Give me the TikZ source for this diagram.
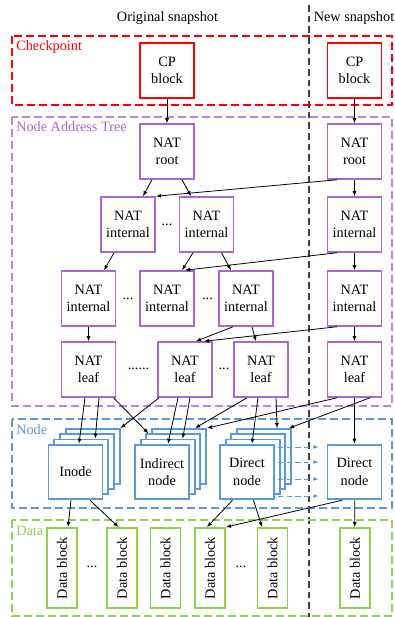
\documentclass[tikz,border=0pt]{standalone}
\usepackage{fontspec}
\setmainfont{Liberation Serif}
\usepackage{xcolor}
\usepackage{graphicx}
\usepackage{tikz}
\usetikzlibrary{arrows.meta,calc,positioning}
\definecolor{cpred}{RGB}{255,0,0}
\definecolor{natpurple}{RGB}{168,102,214}
\definecolor{nodeblue}{RGB}{91,155,213}
\definecolor{datagreen}{RGB}{146,208,80}
\tikzset{
	cpbox/.style   = {draw=cpred,line width=1.4pt,fill=white,minimum width=40.5pt,minimum height=41pt,inner sep=0pt,align=center},
	natbox/.style  = {cpbox,draw=natpurple},
	nodebox/.style = {cpbox,draw=nodeblue},
	databox/.style = {draw=datagreen,line width=1.4pt,fill=white,minimum width=22.5pt,minimum height=60pt,inner sep=0pt},
	region/.style  = {line width=0.8pt,dash pattern=on 6pt off 3pt},
	snapline/.style = {draw=black!75,line width=0.8pt,dash pattern=on 5pt off 3pt},
	conn/.style    = {->,line width=0.6pt},
	copyconn/.style = {->,draw=nodeblue,line width=0.6pt,dash pattern=on 4pt off 2.5pt},
	dotsnode/.style = {inner sep=0pt},
}

\begin{document}
\begin{tikzpicture}[x=0.75pt, y=-0.75pt, font=\fontsize{10.7}{13}\selectfont, >={Latex[length=3.8pt,width=3pt]}]
		\useasboundingbox (0,0) rectangle (395,617);
		% snapshot split
		\draw[snapline] (309,5) -- (309,617);
		\node[anchor=base] (orig) at (167.5,21.7) {Original snapshot};
		\node[anchor=base] (new) at (354,21.7) {New snapshot};
		% regions
		\draw[region, draw=cpred] (12,36) rectangle (392,105);
		\draw[region, draw=natpurple!80] (12,117) rectangle (392,406);
		\draw[region, draw=nodeblue] (12,419) rectangle (392,508);
		\draw[region, draw=datagreen] (12,520) rectangle (392,616);
		\node[anchor=base west, text=cpred, inner sep=0pt] (lcp) at (16,50.7) {Checkpoint};
		\node[anchor=base west, text=natpurple, inner sep=0pt] (lnat) at (16,131.7) {Node Address Tree};
		\node[anchor=base west, text=nodeblue, inner sep=0pt] (lnode) at (16,434) {Node};
		\node[anchor=base west, text=datagreen, inner sep=0pt] (ldata) at (16,535) {Data};

		% checkpoint blocks
		\node[cpbox] (cpO) at (167,70.5) {CP\\block};
		\node[cpbox] (cpN) at (354.5,70.5) {CP\\block};

		% NAT levels
		\node[natbox] (rootO) at (167,151.5) {NAT\\root};
		\node[natbox] (rootN) at (354.5,151.5) {NAT\\root};
		\node[natbox] (intA) at (128,224.5) {NAT\\internal};
		\node[natbox] (intB) at (206.5,224.5) {NAT\\internal};
		\node[natbox] (intN) at (354.5,224.5) {NAT\\internal};
		\node[dotsnode] (dot1) at (167,225) {...};
		\node[natbox] (midA) at (88.5,298.5) {NAT\\internal};
		\node[natbox] (midB) at (167,298.5) {NAT\\internal};
		\node[natbox] (midC) at (246,298.5) {NAT\\internal};
		\node[natbox] (midN) at (354.5,298.5) {NAT\\internal};
		\node[dotsnode] (dot2) at (128,299) {...};
		\node[dotsnode] (dot3) at (207.5,299) {...};
		\node[natbox] (leafA) at (88.5,369.5) {NAT\\leaf};
		\node[natbox] (leafB) at (185,369.5) {NAT\\leaf};
		\node[natbox] (leafC) at (261,369.5) {NAT\\leaf};
		\node[natbox] (leafN) at (354.5,369.5) {NAT\\leaf};
		\node[dotsnode] (dot4) at (138.5,369) {......};
		\node[dotsnode] (dot5) at (224,369) {...};

		% node stacks (back layers first)
		\foreach \k in {3,2,1} {
			\node[nodebox] (ino\k) at (75.5+5.7*\k,472-5.2*\k) {};
			\node[nodebox] (ind\k) at (162+5.7*\k,472-5.2*\k) {};
			\node[nodebox] (dir\k) at (247+5.7*\k,472-5.2*\k) {};
		}
		\node[nodebox] (ino) at (75.5,472) {Inode};
		\node[nodebox] (ind) at (162,472) {Indirect\\node};
		\node[nodebox] (dir) at (247,472) {Direct\\node};
		\node[nodebox] (dirN) at (354.5,472) {Direct\\node};

		% data blocks
		\node[databox] (d1) at (62,568) {\rotatebox{90}{Data block}};
		\node[databox] (d2) at (122,568) {\rotatebox{90}{Data block}};
		\node[databox] (d3) at (165.5,568) {\rotatebox{90}{Data block}};
		\node[databox] (d4) at (210,568) {\rotatebox{90}{Data block}};
		\node[databox] (d5) at (272.5,568) {\rotatebox{90}{Data block}};
		\node[databox] (dN) at (355,568) {\rotatebox{90}{Data block}};
		\node[dotsnode] (dot6) at (92,567) {...};
		\node[dotsnode] (dot7) at (241,567) {...};

		% pointers
		\draw[conn] (cpO) -- (rootO);
		\draw[conn] (cpN) -- (rootN);
		\draw[conn] ($(rootO.south)+(-15,0)$) -- ($(intA.north)+(15,0)$);
		\draw[conn] ($(rootO.south)+(15,0)$) -- ($(intB.north)+(-15.5,0)$);
		\draw[conn] ($(rootN.south)+(-17.5,0)$) -- (intA.north east);
		\draw[conn] (rootN) -- (intN);
		\draw[conn] ($(intA.south)+(-14,0)$) -- ($(midA.north)+(15.5,0)$);
		\draw[conn] ($(intB.south)+(-13.5,0)$) -- ($(midB.north)+(15,0)$);
		\draw[conn] ($(intB.south)+(15,0)$) -- ($(midC.north)+(-15,0)$);
		\draw[conn] ($(intN.south)+(-17.5,0)$) -- ($(midB.north)+(18,0)$);
		\draw[conn] (intN) -- (midN);
		\draw[conn] (midA) -- (leafA);
		\draw[conn] ($(midC.south)+(-13,0)$) -- ($(leafB.north)+(11,0)$);
		\draw[conn] ($(midC.south)+(6,0)$) -- ($(leafC.north)+(-5,0)$);
		\draw[conn] ($(midN.south)+(-17.5,0)$) -- ($(leafB.north)+(19,0)$);
		\draw[conn] (midN) -- (leafN);
		% leaf -> node
		\draw[conn] ($(leafA.south)+(-3.5,0)$) -- ($(ino.north)+(3.5,0)$);
		\draw[conn] ($(leafA.south)+(10.5,0)$) -- ($(ino1.north)+(14,0)$);
		\draw[conn] ($(leafA.south)+(25,0)$) -- ($(ind2.north)+(-25,0)$);
		\draw[conn] ($(leafB.south)+(-26,0)$) -- (ino3.north east);
		\draw[conn] ($(leafB.south)+(-7,0)$) -- ($(ind.north)+(6,0)$);
		\draw[conn] ($(leafB.south)+(5,0)$) -- ($(ind1.north)+(15,0)$);
		\draw[conn] ($(leafC.south)+(-14,0)$) -- ($(ind3.north)+(16,0)$);
		\draw[conn] ($(leafN.south)+(-17.5,0)$) -- (ind3.north east);
		\draw[conn] ($(leafC.south)+(-3,0)$) -- ($(dir.north)+(5,0)$);
		\draw[conn] ($(leafC.south)+(15,0)$) -- ($(dir3.north)+(13,0)$);
		\draw[conn] ($(leafN.south)+(15.5,0)$) -- ($(dir3.north east)+(-3,0)$);
		\draw[conn] (leafN) -- (dirN);
		% copied node versions
		\foreach \dy in {-25,-10,7,24}
			\draw[copyconn] ($(dir.east)+(3,\dy)$) -- ($(dirN.west)+(-8,\dy)$);
		% node -> data
		\draw[conn] ($(ino.south)+(-4.5,0)$) -- ($(d1.north)+(6,0)$);
		\draw[conn] ($(ino.south)+(14.5,0)$) -- ($(d2.north)+(-3.5,0)$);
		\draw[conn] ($(dir.south)+(-14.5,0)$) -- ($(d4.north)+(-3,0)$);
		\draw[conn] ($(dir.south)+(6.5,0)$) -- ($(d5.north)+(-10.5,0)$);
		\draw[conn] ($(dirN.south)+(-12.5,0)$) -- (d4.north east);
		\draw[conn] (dirN) -- (dN);
	\end{tikzpicture}
\end{document}
